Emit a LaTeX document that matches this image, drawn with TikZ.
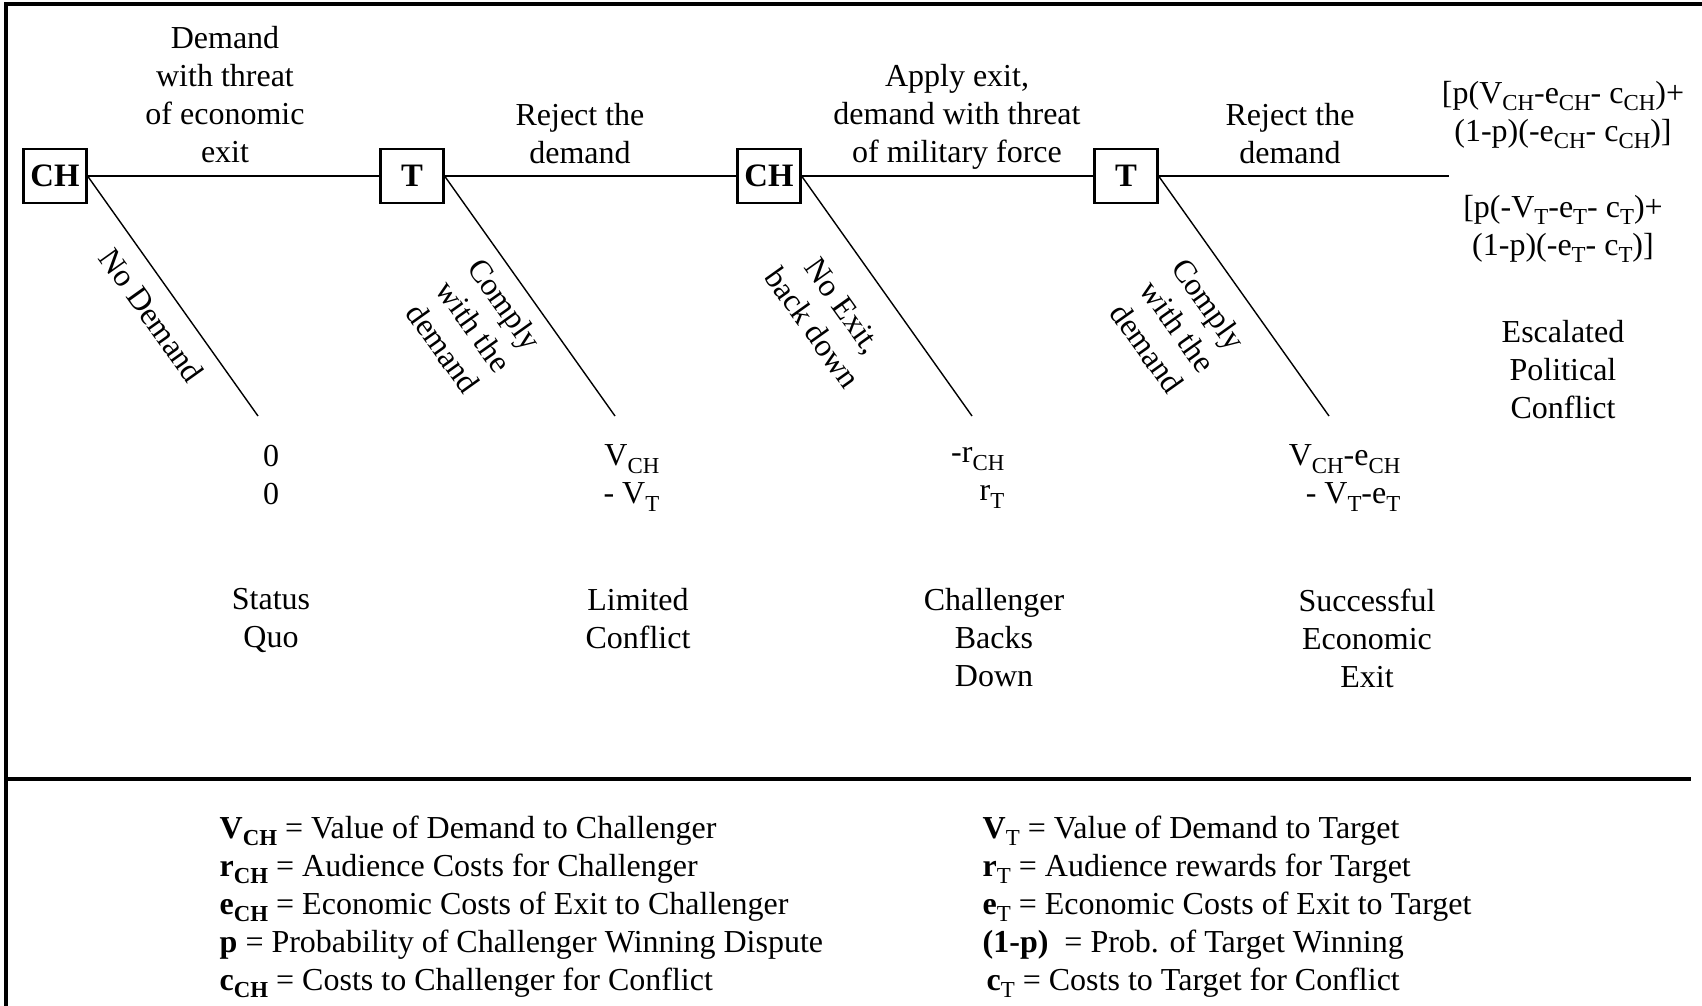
\documentclass[tikz,border=0pt]{standalone}
\usepackage{fontspec}
\setmainfont{Liberation Serif}
\usetikzlibrary{positioning}

% lowered, larger subscripts as in the typed original
\newcommand{\subtxt}[1]{\raisebox{-0.5ex}{\fontsize{6.5}{7}\selectfont #1}}

\tikzset{
  player/.style={draw, line width=0.6pt, minimum width=0.63cm, minimum height=0.54cm,
    inner sep=0pt, font=\bfseries\fontsize{9.3}{10.8}\selectfont},
  lbl/.style={align=center, inner sep=0pt, font=\fontsize{9.1}{10.8}\selectfont},
  legendtxt/.style={align=left, inner sep=0pt, anchor=west, font=\fontsize{9.1}{10.8}\selectfont},
}

\begin{document}
\begin{tikzpicture}[x=0.01cm, y=-0.01cm]
    \useasboundingbox (0,0) rectangle (1702,1006);

    % Frame and separator
    \draw[line width=0.9pt] (6,1006) -- (6,4) -- (1702,4);
    \draw[line width=0.9pt] (6,779) -- (1691,779);

    % Decision nodes
    \node[player] (ch1) at (55,176) {CH};
    \node[player] (t1) at (412,176) {T};
    \node[player] (ch2) at (769,176) {CH};
    \node[player] (t2) at (1126,176) {T};

    % End points of the branches
    \coordinate (sq) at (258,416);
    \coordinate (lc) at (615,416);
    \coordinate (bd) at (972,416);
    \coordinate (se) at (1329,416);
    \coordinate (esc) at (1449,176);

    % Branches
    \draw (ch1) -- (t1);
    \draw (t1) -- (ch2);
    \draw (ch2) -- (t2);
    \draw (t2) -- (esc);
    \draw (ch1.east) -- (sq);
    \draw (t1.east) -- (lc);
    \draw (ch2.east) -- (bd);
    \draw (t2.east) -- (se);

    % Move labels
    \node[lbl] (demand) at (225,95) {Demand\\with threat\\of economic\\exit};
    \node[lbl] (reject1) at (580,134) {Reject the\\demand};
    \node[lbl] (apply) at (957,117) {Apply exit,\\demand with threat\\of military force};
    \node[lbl] (reject2) at (1290,134) {Reject the\\demand};
    \node[lbl, rotate=-54.5] (nodem) at (152,315) {No Demand};
    \node[lbl, rotate=-54.5] (comply1) at (474,326) {Comply\\with the\\demand};
    \node[lbl, rotate=-54.5] (noexit) at (828,317) {No Exit,\\back down};
    \node[lbl, rotate=-54.5] (comply2) at (1178,326) {Comply\\with the\\demand};

    % Payoffs
    \node[lbl] (pay1) at (271,475) {0\\0};
    \node[lbl, align=right, anchor=east] (pay2) at (660,478) {V\subtxt{CH}\\- V\subtxt{T}};
    \node[lbl, align=right, anchor=east] (pay3) at (1005,478) {-r\subtxt{CH}\\r\subtxt{T}};
    \node[lbl, align=right, anchor=east] (pay4) at (1401,478) {V\subtxt{CH}-e\subtxt{CH}\\- V\subtxt{T}-e\subtxt{T}};
    \node[lbl] (paych) at (1563,115) {[p(V\subtxt{CH}-e\subtxt{CH}- c\subtxt{CH})+\\(1-p)(-e\subtxt{CH}- c\subtxt{CH})]};
    \node[lbl] (payt) at (1563,229) {[p(-V\subtxt{T}-e\subtxt{T}- c\subtxt{T})+\\(1-p)(-e\subtxt{T}- c\subtxt{T})]};

    % Outcomes
    \node[lbl, anchor=north] (statusquo) at (271,588) {Status\\Quo};
    \node[lbl, anchor=north] (limited) at (638,588) {Limited\\Conflict};
    \node[lbl, anchor=north] (backs) at (994,588) {Challenger\\Backs\\Down};
    \node[lbl, anchor=north] (success) at (1367,588) {Successful\\Economic\\Exit};
    \node[lbl] (escalated) at (1563,370) {Escalated\\Political\\Conflict};

    % Definitions
    \node[legendtxt] (defsch) at (219,907) {\textbf{V}\subtxt{\textbf{CH}} = Value of Demand to Challenger\\
      \textbf{r}\subtxt{\textbf{CH}} = Audience Costs for Challenger\\
      \textbf{e}\subtxt{\textbf{CH}} = Economic Costs of Exit to Challenger\\
      \textbf{p} = Probability of Challenger Winning Dispute\\
      \textbf{c}\subtxt{\textbf{CH}} = Costs to Challenger for Conflict};
    \node[legendtxt] (defst) at (982,907) {\textbf{V}\subtxt{T} = Value of Demand to Target\\
      \textbf{r}\subtxt{T} = Audience rewards for Target\\
      \textbf{e}\subtxt{T} = Economic Costs of Exit to Target\\
      \textbf{(1-p)}\ \ = Prob. of Target Winning\\
      \hspace{0.04cm}\textbf{c}\subtxt{T} = Costs to Target for Conflict};
\end{tikzpicture}
\end{document}
